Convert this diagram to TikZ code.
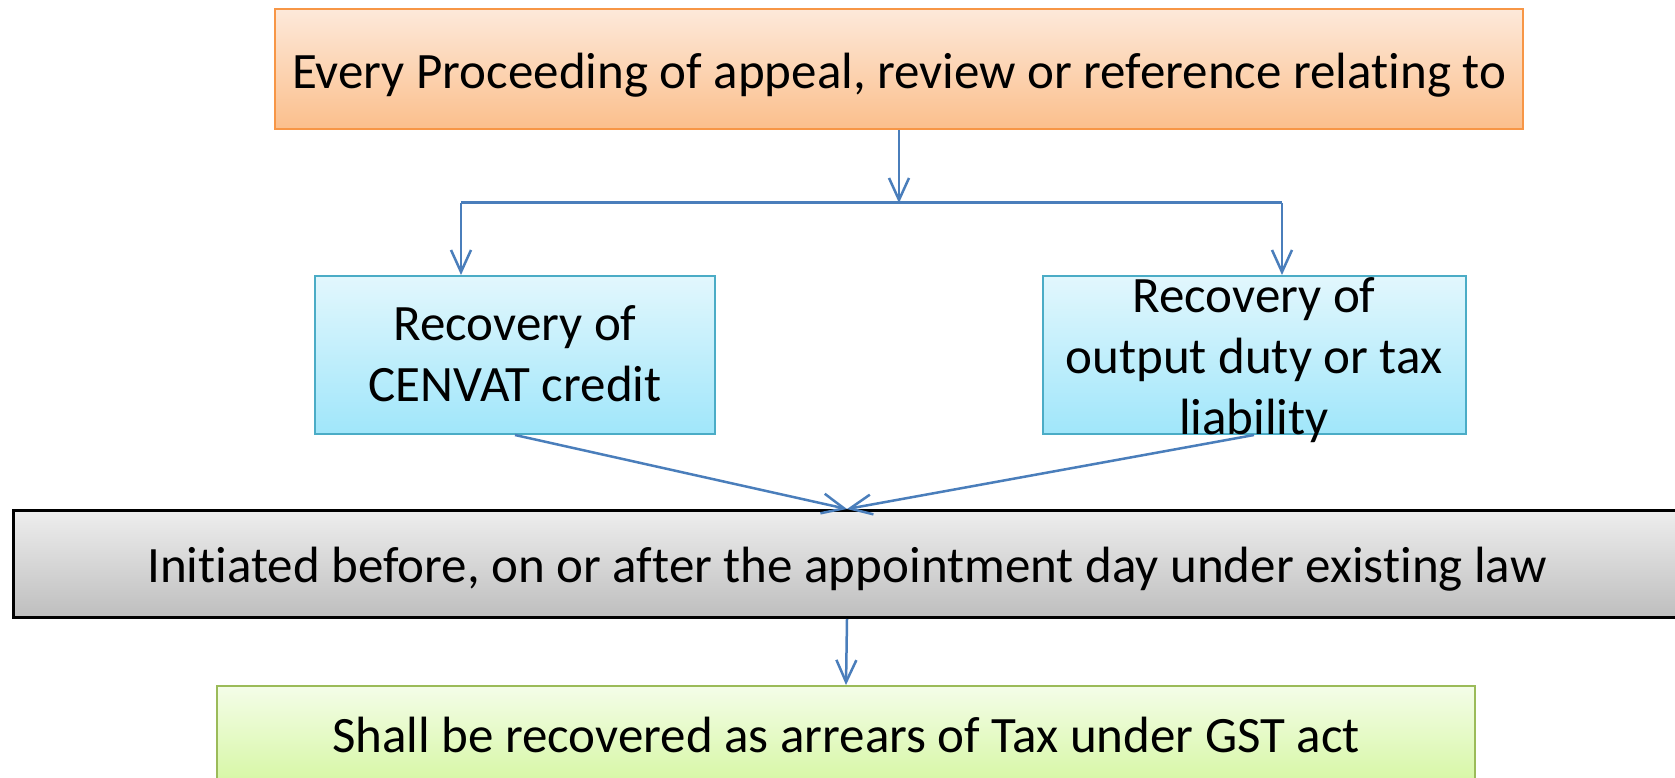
\documentclass[tikz,border=0pt]{standalone}
\usepackage{fontspec}
\setmainfont{Carlito}[Ligatures=NoCommon, RawFeature={-liga;-calt}]
\usetikzlibrary{arrows.meta}

\definecolor{linkblue}{HTML}{4A7EBB}
\definecolor{orangeedge}{HTML}{F79646}
\definecolor{orangetop}{HTML}{FDE9DA}
\definecolor{orangebot}{HTML}{FBBF8C}
\definecolor{cyanedge}{HTML}{4BACC6}
\definecolor{cyantop}{HTML}{E2F7FD}
\definecolor{cyanbot}{HTML}{A0E6FA}
\definecolor{graytop}{HTML}{EEEEEE}
\definecolor{graybot}{HTML}{BEBEBE}
\definecolor{greenedge}{HTML}{9BBB59}
\definecolor{greentop}{HTML}{F4FDE8}
\definecolor{greenbot}{HTML}{D6F7A4}

% pad the top of a text so it sits lower in its box
\newcommand{\dropby}[2]{\raisebox{0pt}[\dimexpr\height+#1\relax][\depth]{#2}}

\begin{document}
\begin{tikzpicture}[x=1pt, y=-1pt,
    box/.style={draw, line width=2pt, align=center, inner sep=0pt,
      font=\fontsize{51}{61}\selectfont},
    link/.style={draw=linkblue, line width=2.5pt,
      -{Straight Barb[length=22pt, width=20pt, line width=2.5pt]}}]
   % page frame, 1px = 1pt
   \useasboundingbox (0,0) rectangle (1675,778);
   \clip (0,0) rectangle (1675,778);

   \node[box, draw=orangeedge, top color=orangetop, bottom color=orangebot,
     minimum width=1248pt, minimum height=120pt] (proc) at (899,69)
     {\dropby{12pt}{Every Proceeding of appeal, review or reference relating to}};
   \node[box, draw=cyanedge, top color=cyantop, bottom color=cyanbot,
     minimum width=400pt, minimum height=158pt] (cenvat) at (515,355)
     {\dropby{8pt}{\begin{tabular}{@{}c@{}}Recovery of\\CENVAT credit\end{tabular}}};
   \node[box, draw=cyanedge, top color=cyantop, bottom color=cyanbot, inner ysep=-20pt,
     minimum width=423pt, minimum height=158pt] (output) at (1254,355)
     {\dropby{12pt}{\begin{tabular}{@{}c@{}}Recovery of\\output duty or tax\\liability\end{tabular}}};
   \node[box, draw=black, line width=3pt, top color=graytop, bottom color=graybot,
     minimum width=1668pt, minimum height=107pt] (initiated) at (847,564)
     {\dropby{10pt}{Initiated before, on or after the appointment day under existing law}};
   \node[box, draw=greenedge, top color=greentop, bottom color=greenbot,
     minimum width=1258pt, minimum height=98pt] (recovered) at (846,735)
     {Shall be recovered as arrears of Tax under GST act};

   \coordinate (split) at (899,203);
   \coordinate (splitL) at (461,203);
   \coordinate (splitR) at (1282,203);

   \draw[link] (proc.south) -- (split);
   \draw[linkblue, line width=3pt] (splitL) -- (splitR);
   \draw[link] (splitL) -- (splitL |- cenvat.north);
   \draw[link] (splitR) -- (splitR |- output.north);
   \draw[link] (cenvat.south) -- (initiated.north);
   \draw[link] (output.south) -- (initiated.north);
   \draw[link] (initiated.south) -- (recovered.north);
\end{tikzpicture}
\end{document}
